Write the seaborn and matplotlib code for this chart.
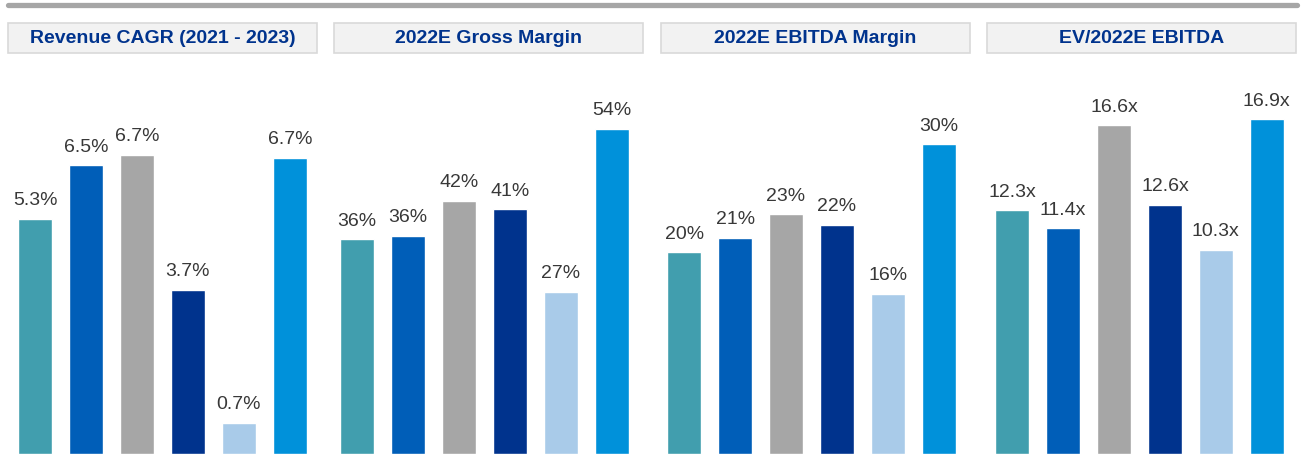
import matplotlib
matplotlib.use("Agg")
import matplotlib.pyplot as plt
from matplotlib.patches import Rectangle
from matplotlib.lines import Line2D
import seaborn as sns
import pandas as pd

# Peer set (names not shown on the chart)
companies = ["Peer 1", "Peer 2", "Peer 3", "Peer 4", "Peer 5", "Peer 6"]
colors = ["#419EAE", "#005EB8", "#A6A6A6", "#00338D", "#A9CBE9", "#0091DA"]

titles = ["Revenue CAGR (2021 - 2023)", "2022E Gross Margin",
          "2022E EBITDA Margin", "EV/2022E EBITDA"]
revenue_cagr = [5.3, 6.5, 6.74, 3.7, 0.7, 6.66]
gross_margin = [35.8, 36.4, 42.2, 40.8, 27.0, 54.2]
ebitda_margin = [19.6, 21.0, 23.3, 22.3, 15.6, 30.1]
ev_ebitda = [12.3, 11.4, 16.6, 12.6, 10.3, 16.9]

series = [revenue_cagr, gross_margin, ebitda_margin, ev_ebitda]
formats = ["{:.1f}%", "{:.0f}%", "{:.0f}%", "{:.1f}x"]
y_tops = [8.87, 65.7, 38.3, 19.9]

W, H = 1302, 454
fig = plt.figure(figsize=(W / 100, H / 100), dpi=100)
sns.set_style("white")
plt.rcParams["font.family"] = ["Liberation Sans", "DejaVu Sans"]

# grey rule across the top
fig.add_artist(Line2D([8 / W, 1297 / W], [1 - 5 / H, 1 - 5 / H], color="#A6A6A6",
                      lw=3.8, solid_capstyle="round"))

header_x = [8, 334, 661, 987]
axes_x = [8, 330, 657, 985]
box_w = 309

for i, (vals, title) in enumerate(zip(series, titles)):
    left = header_x[i]
    # header box
    fig.add_artist(Rectangle((left / W, 1 - 53 / H), box_w / W, 30 / H,
                             facecolor="#F2F2F2", edgecolor="#D9D9D9", lw=1.2))
    fig.text((left + box_w / 2) / W, 1 - 38.5 / H, title, ha="center", va="center",
             fontsize=14, fontweight="bold", color="#00338D")

    ax = fig.add_axes([axes_x[i] / W, 0, box_w / W, 394 / H])
    df = pd.DataFrame({"company": companies, "value": vals})
    sns.barplot(data=df, x="company", y="value", hue="company", palette=colors,
                dodge=False, width=0.67, legend=False, ax=ax, saturation=1)
    for c in ax.containers:
        ax.bar_label(c, fmt=formats[i], padding=7, fontsize=14, color="#383838")
    ax.set_xlim(-0.535, 5.535)
    ax.set_ylim(0, y_tops[i])
    ax.set_axis_off()

fig.savefig("out.png", dpi=100)
